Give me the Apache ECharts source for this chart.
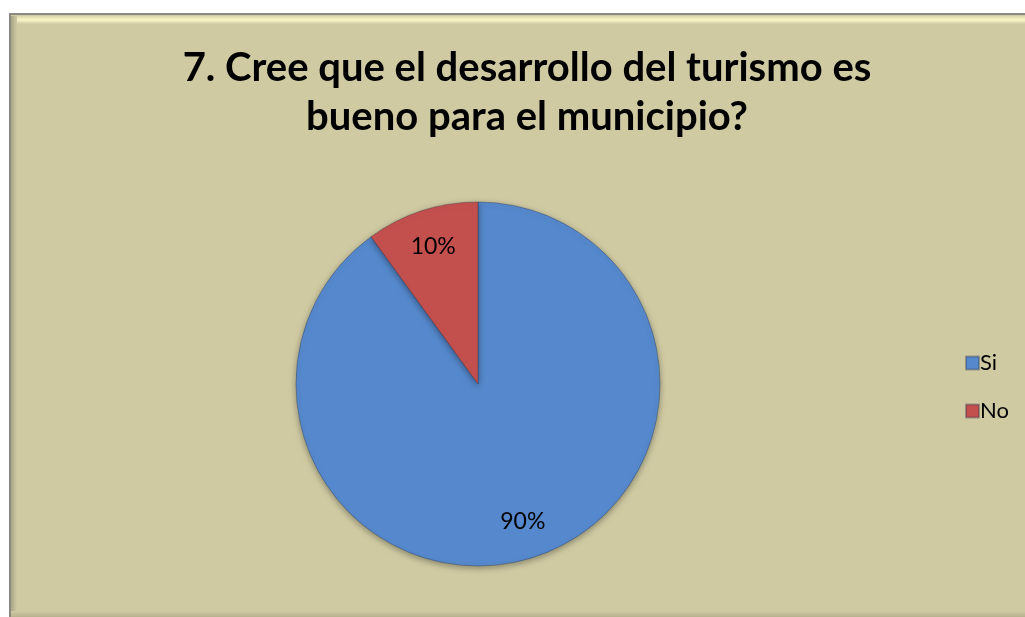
<!DOCTYPE html>
<html><head><meta charset="utf-8">
<script src="https://cdn.jsdelivr.net/npm/echarts@6/dist/echarts.min.js"></script>
<style>html,body{margin:0;padding:0;background:#fff}#c{width:1025px;height:617px}</style>
</head><body><div id="c"></div>
<script>
const categories = ['Si', 'No'];
const values = [90, 10];
const colors = ['#5588CC', '#C4504E'];
const titleText = '7. Cree que el desarrollo del turismo es\nbueno para el municipio?';

const chart = echarts.init(document.getElementById('c'));
const data = categories.map((c, i) => ({ name: c, value: values[i], itemStyle: { color: colors[i] } }));
chart.setOption({
  backgroundColor: '#ffffff',
  animation: false,
  graphic: [
    { type: 'rect', shape: { x: 10, y: 14, width: 1030, height: 620 }, style: { fill: '#CFCAA2', stroke: '#8a8a82', lineWidth: 2 }, z: -10 },
    { type: 'rect', shape: { x: 11, y: 16, width: 1030, height: 8 }, style: { fill: { type: 'linear', x: 0, y: 0, x2: 0, y2: 1, colorStops: [{ offset: 0, color: '#dcd7a8' }, { offset: 0.5, color: '#fbf7c8' }, { offset: 1, color: '#CFCAA2' }] } }, z: -9 },
    { type: 'rect', shape: { x: 11, y: 16, width: 6, height: 620 }, style: { fill: { type: 'linear', x: 0, y: 0, x2: 1, y2: 0, colorStops: [{ offset: 0, color: '#a9a58a' }, { offset: 1, color: '#CFCAA2' }] } }, z: -9 },
    { type: 'rect', shape: { x: 11, y: 611, width: 1030, height: 6 }, style: { fill: { type: 'linear', x: 0, y: 0, x2: 0, y2: 1, colorStops: [{ offset: 0, color: '#CFCAA2' }, { offset: 1, color: '#b7b28e' }] } }, z: -9 }
  ],
  title: {
    text: titleText,
    left: 522, top: 39, textAlign: 'center',
    textStyle: { fontFamily: 'Lato', fontWeight: 'bold', fontSize: 40, lineHeight: 49, color: '#000' }
  },
  legend: {
    orient: 'vertical', left: 960, top: 347,
    itemWidth: 13, itemHeight: 13, itemGap: 26, icon: 'rect',
    textStyle: { fontFamily: 'Lato', fontSize: 22, color: '#000', padding: [0, 0, 0, -4] },
    data: categories
  },
  series: [
    {
      type: 'pie', center: [478, 384], radius: [0, 182],
      startAngle: 90, clockwise: true,
      data: data,
      label: { show: false }, labelLine: { show: false },
      itemStyle: { borderColor: 'rgba(40,50,70,0.35)', borderWidth: 1, shadowBlur: 6, shadowColor: 'rgba(0,0,0,0.35)', shadowOffsetY: 2 },
      emphasis: { disabled: true }
    },
    {
      type: 'pie', center: [478, 384], radius: [104, 180],
      startAngle: 90, clockwise: true, silent: true,
      data: data.map(d => ({ name: d.name, value: d.value, itemStyle: { color: 'transparent' } })),
      label: { show: true, position: 'inside', formatter: p => p.value + '%', fontFamily: 'Lato', fontSize: 23, color: '#000' },
      labelLine: { show: false },
      emphasis: { disabled: true }
    }
  ]
});
</script></body></html>
